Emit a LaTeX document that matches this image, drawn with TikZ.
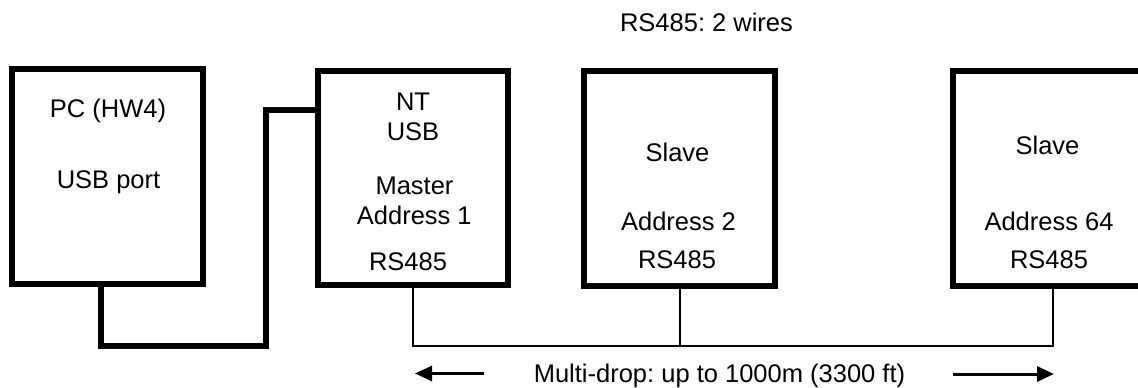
\documentclass[tikz,border=0pt]{standalone}
\usepackage{fontspec}
\setmainfont{Liberation Sans}
\usetikzlibrary{arrows.meta}
\frenchspacing

\begin{document}
\begin{tikzpicture}[x=1pt, y=-1pt,
    every node/.style={font=\fontsize{25.5}{31}\selectfont},
    unit/.style={draw, line width=6pt, rectangle, inner sep=0pt,
      minimum width=191pt, minimum height=215pt},
    txt/.style={anchor=base, inner sep=0pt},
    cable/.style={line width=5.3pt},
    bus/.style={line width=2pt},
    span/.style={line width=3pt, -{Triangle[length=17pt, width=15pt]}}]
  % Page frame (the last unit runs off the right edge)
  \useasboundingbox (0,0) rectangle (1138,388);
  \clip (0,0) rectangle (1138,388);
  % Units
  \node[unit] (pc) at (107,176.5) {};
  \node[unit, minimum width=190pt, minimum height=214pt] (nt) at (413,178) {};
  \node[unit] (slave2) at (679.5,178.5) {};
  \node[unit] (slave64) at (1048.5,178.5) {};
  % Texts in the units
  \node[txt] (pc-name) at (108,117.7) {PC (HW4)};
  \node[txt] (pc-port) at (108.5,188.3) {USB port};
  \node[txt] (nt-name) at (413,110) {NT};
  \node[txt] (nt-usb) at (413,140.7) {USB};
  \node[txt] (nt-role) at (414.5,194) {Master};
  \node[txt] (nt-addr) at (414.3,224.7) {Address 1};
  \node[txt] (nt-bus) at (408,270) {RS485};
  \node[txt] (s2-role) at (677.5,161.7) {Slave};
  \node[txt] (s2-addr) at (678.5,230.5) {Address 2};
  \node[txt] (s2-bus) at (677,268.3) {RS485};
  \node[txt] (s64-role) at (1047.5,154.3) {Slave};
  \node[txt] (s64-addr) at (1049,230) {Address 64};
  \node[txt] (s64-bus) at (1049,268.3) {RS485};
  % Notes
  \node[txt] (wires) at (706.5,31.7) {RS485: 2 wires};
  \node[txt] (drop) at (719.5,382.7) {Multi-drop: up to 1000m (3300 ft)};
  % USB cable
  \coordinate (bend) at (266,346);
  \draw[cable] ([xshift=-6pt]pc.south) |- (bend) |- ([yshift=68pt]nt.west);
  % RS485 bus
  \coordinate (busline) at (0,346);
  \coordinate (s64tap) at ([xshift=4.5pt]slave64.south);
  \draw[bus] (nt.south) |- (s64tap |- busline) -- (s64tap);
  \draw[bus] (slave2.south) -- (slave2.south |- busline);
  % Span arrows
  \coordinate (lefttail) at (484,373.5);
  \coordinate (lefttip) at (415,373.5);
  \coordinate (righttail) at (953,374);
  \coordinate (righttip) at (1054,374);
  \draw[span] (lefttail) -- (lefttip);
  \draw[span] (righttail) -- (righttip);
\end{tikzpicture}
\end{document}
